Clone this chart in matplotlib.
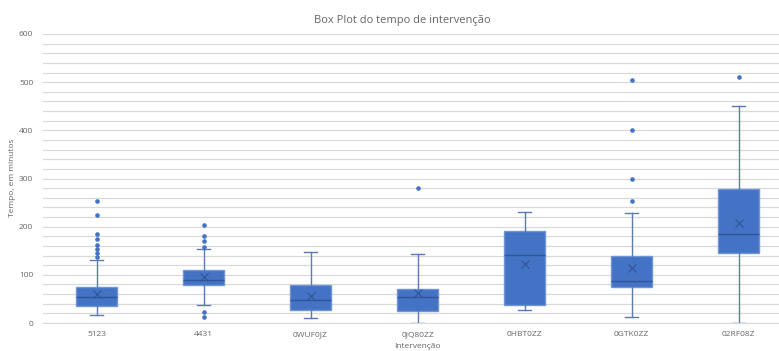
import matplotlib.pyplot as plt

# categorias e estatísticas (minutos)
categorias = ['5123', '4431', '0WUF0JZ', '0JQ80ZZ', '0HBT0ZZ', '0GTK0ZZ', '02RF08Z']
minimo = [16, 37, 10, 0, 28, 12, 0]
q1 = [35, 78, 27, 24, 37, 75, 145]
mediana = [53, 89, 47, 53, 141, 87, 185]
q3 = [75, 109, 79, 71, 192, 140, 278]
maximo = [130, 153, 147, 143, 230, 228, 450]
media = [60, 95, 56, 62, 122, 115, 208]
outliers = [
    [253, 224, 184, 175, 162, 154, 145, 137],
    [203, 180, 171, 158, 23, 12],
    [],
    [281],
    [],
    [504, 400, 298, 253],
    [510],
]

stats = []
for i in range(len(categorias)):
    stats.append({'whislo': minimo[i], 'q1': q1[i], 'med': mediana[i], 'q3': q3[i],
                  'whishi': maximo[i], 'mean': media[i], 'fliers': outliers[i],
                  'label': categorias[i]})

plt.rcParams['font.family'] = ['Open Sans', 'DejaVu Sans']
cinza = '#666666'
azul = '#4472C4'

fig = plt.figure(figsize=(7.79, 3.51), dpi=100)
ax = fig.add_axes([43 / 779, 28 / 351, 749 / 779, 289 / 351])

ax.bxp(stats, positions=range(len(categorias)), widths=0.39, capwidths=0.12,
       showmeans=True, patch_artist=True,
       boxprops=dict(facecolor=azul, edgecolor='#7096d6', linewidth=1),
       medianprops=dict(color='#2f5597', linewidth=1),
       whiskerprops=dict(color='#5b7cb0', linewidth=1),
       capprops=dict(color='#5b7cb0', linewidth=1),
       meanprops=dict(marker='x', markeredgecolor='#2f5597', markersize=6, markeredgewidth=0.8),
       flierprops=dict(marker='o', markerfacecolor=azul, markeredgecolor=azul, markersize=2.3))

ax.set_xlim(-0.5, len(categorias) - 0.5)
ax.set_ylim(0, 600)
ax.set_yticks(range(0, 601, 100))
ax.set_yticks(range(0, 601, 20), minor=True)
ax.grid(axis='y', which='both', color='#d9d9d9', linewidth=0.9)
ax.set_axisbelow(True)
for s in ['top', 'right', 'left']:
    ax.spines[s].set_visible(False)
ax.spines['bottom'].set_color('#d9d9d9')
ax.tick_params(axis='both', which='both', length=0, labelsize=6, colors=cinza)
ax.tick_params(axis='x', pad=6)
ax.tick_params(axis='y', pad=7)

fig.text(402 / 779, 1 - 20 / 351, 'Box Plot do tempo de intervenção', ha='center', va='center',
         fontsize=8, color=cinza)
fig.text(417 / 779, 1 - 346 / 351, 'Intervenção', ha='center', va='center', fontsize=6, color=cinza)
fig.text(13 / 779, 1 - 178 / 351, 'Tempo, em minutos', ha='center', va='center', rotation=90,
         fontsize=6, color=cinza)

plt.savefig('out.png', dpi=100)
